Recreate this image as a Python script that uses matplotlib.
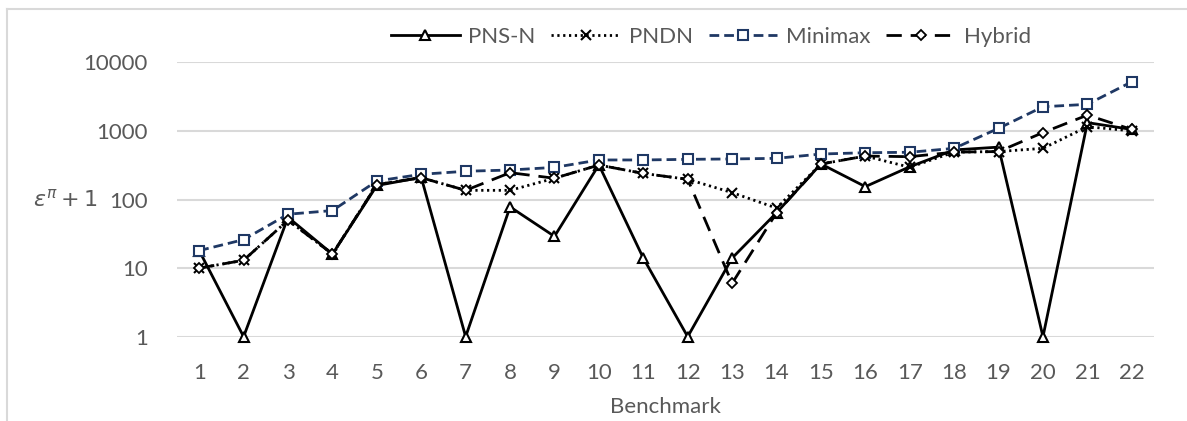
import numpy as np
import matplotlib.pyplot as plt
from matplotlib.lines import Line2D

plt.rcParams['font.family'] = ['Lato', 'DejaVu Sans']

# values (epsilon^pi + 1, log scale)
benchmarks = list(range(1, 23))
pns_n = [18, 1, 55, 16, 160, 210, 1, 78, 29, 320, 14, 1,
         14, 64, 330, 154, 300, 528, 580, 1, 1320, 1050]
pndn = [10, 13, 50, 16, 165, 208, 136, 136, 204, 318, 240, 197,
        126, 75, 329, 430, 295, 490, 500, 557, 1150, 1000]
minimax = [18, 26, 61, 69, 186, 233, 258, 269, 294, 377, 377, 385,
           390, 398, 460, 481, 488, 557, 1090, 2250, 2440, 5200]
hybrid = [10, 13, 50, 16, 165, 208, 136, 246, 204, 318, 240, 197,
          6, 64, 329, 430, 421, 490, 500, 945, 1700, 1050]

text_col = '#595959'
grid_col = '#D9D9D9'
navy = '#1F3864'

fig = plt.figure(figsize=(11.87, 4.21), dpi=100)
ax = fig.add_axes([177/1187, 1-336.7/421, (1154-177)/1187, (336.7-62.3)/421])

x = np.array(benchmarks)
ax.plot(x, pns_n, color='black', lw=2, ls='-', marker='^', ms=7,
        mfc='white', mec='black', mew=1.5, label='PNS-N', zorder=3, clip_on=False)
ax.plot(x, pndn, color='black', lw=2, ls=(0, (0.8, 1.3)), marker='x', ms=7,
        mec='black', mew=1.5, label='PNDN', zorder=4, clip_on=False)
ax.plot(x, minimax, color=navy, lw=2, ls=(0, (3.5, 1.8)), marker='s', ms=7,
        mfc='white', mec=navy, mew=1.5, label='Minimax', zorder=5, clip_on=False)
ax.plot(x, hybrid, color='black', lw=2, ls=(0, (5.5, 3.2)), marker='D', ms=5,
        mfc='white', mec='black', mew=1.3, label='Hybrid', zorder=6, clip_on=False)

ax.set_yscale('log')
ax.set_ylim(1, 10000)
ax.set_xlim(0.5, 22.5)
ax.set_yticks([1, 10, 100, 1000, 10000])
ax.set_yticklabels(['1', '10', '100', '1000', '10000'])
ax.minorticks_off()
ax.set_xticks(benchmarks)
ax.tick_params(axis='both', length=0, labelsize=16, labelcolor=text_col)
ax.tick_params(axis='y', pad=21)
ax.tick_params(axis='x', pad=19)
ax.grid(axis='y', color=grid_col, lw=1.5)
ax.set_axisbelow(True)
for s in ax.spines.values():
    s.set_visible(False)

ax.set_xlabel('Benchmark', fontsize=16, color=text_col, labelpad=10)
ax.set_ylabel(r'$\varepsilon^{\pi} + 1$', fontsize=16, color=text_col,
              rotation=0, ha='center', va='center')
ax.yaxis.set_label_coords(-0.114, 0.5)

leg = fig.legend(loc='center', bbox_to_anchor=(711/1187, 1-37/421), ncol=4,
                 frameon=False, fontsize=16, handlelength=3.1,
                 handletextpad=0.4, columnspacing=0.7, labelcolor=text_col)

# outer chart frame
fig.add_artist(Line2D([7/1187, 7/1187], [0, 1-8.5/421], color=grid_col, lw=1.5))
fig.add_artist(Line2D([7/1187, 1], [1-8.5/421, 1-8.5/421], color=grid_col, lw=1.5))

fig.savefig('out.png', dpi=100)
